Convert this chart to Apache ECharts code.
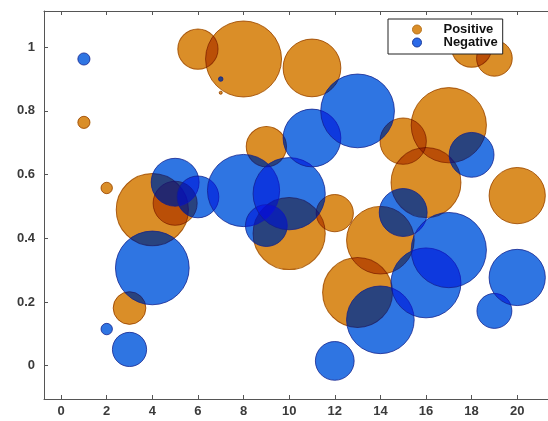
<!DOCTYPE html>
<html>
<head>
<meta charset="utf-8">
<script src="https://cdn.jsdelivr.net/npm/echarts@6/dist/echarts.min.js"></script>
<style>
html,body{margin:0;padding:0;background:#fff;}
#chart{width:548px;height:421px;}
</style>
</head>
<body>
<div id="chart"></div>
<script>
// ---- data ----
const positions = [1, 2, 3, 4, 5, 6, 7, 8, 9, 10, 11, 12, 13, 14, 15, 16, 17, 18, 19, 20];
const positiveValues = [0.764, 0.558, 0.181, 0.49, 0.51, 0.994, 0.857, 0.963, 0.688, 0.415, 0.935, 0.479, 0.23, 0.394, 0.705, 0.575, 0.755, 1.0, 0.965, 0.534];
const positiveMagnitude = [0.16, 0.15, 0.43, 0.95, 0.58, 0.53, 0.04, 1.0, 0.53, 0.95, 0.76, 0.49, 0.92, 0.89, 0.61, 0.92, 0.99, 0.53, 0.47, 0.74];
const negativeValues = [0.963, 0.115, 0.051, 0.307, 0.576, 0.53, 0.90, 0.55, 0.44, 0.54, 0.715, 0.015, 0.80, 0.144, 0.481, 0.26, 0.363, 0.662, 0.172, 0.277];
const negativeMagnitude = [0.16, 0.15, 0.45, 0.97, 0.63, 0.55, 0.06, 0.95, 0.55, 0.95, 0.76, 0.51, 0.97, 0.89, 0.63, 0.92, 0.99, 0.59, 0.46, 0.74];
const seriesNames = ['Positive', 'Negative'];
const xTickLabels = [0, 2, 4, 6, 8, 10, 12, 14, 16, 18, 20];
const yTickLabels = [0, 0.2, 0.4, 0.6, 0.8, 1];

const posData = positions.map((x, i) => [x, positiveValues[i], positiveMagnitude[i]]);
const negData = positions.map((x, i) => [x, negativeValues[i], negativeMagnitude[i]]);

const SIZE_SCALE = 76;
const sizeFn = v => v[2] * SIZE_SCALE;

const axisColor = '#555';
const labelStyle = { fontFamily: 'Liberation Sans, Arial, sans-serif', fontWeight: 'bold', fontSize: 13, color: '#3a3a3a' };

const chart = echarts.init(document.getElementById('chart'), null, { renderer: 'canvas' });
chart.setOption({
  animation: false,
  backgroundColor: '#ffffff',
  grid: { left: 44, top: 11, right: 0, bottom: 22, containLabel: false },
  legend: {
    orient: 'vertical',
    left: 388,
    top: 19,
    padding: [4, 5, 5, 24],
    itemGap: 0,
    itemWidth: 43,
    itemHeight: 9,
    icon: 'circle',
    backgroundColor: '#fff',
    borderColor: '#222',
    borderWidth: 1,
    borderRadius: 0,
    selectedMode: false,
    textStyle: { fontFamily: 'Liberation Sans, Arial, sans-serif', fontWeight: 'bold', fontSize: 13, color: '#111', lineHeight: 13 },
    data: [
      { name: seriesNames[0], itemStyle: { color: '#DA8E28', borderColor: '#B8741E', borderWidth: 1, opacity: 1 } },
      { name: seriesNames[1], itemStyle: { color: '#2B6AE8', borderColor: '#1B3A9A', borderWidth: 1, opacity: 1 } }
    ]
  },
  xAxis: [{
    type: 'value',
    min: -0.75,
    max: 21.35,
    position: 'bottom',
    splitLine: { show: false },
    axisLine: { show: true, onZero: false, lineStyle: { color: axisColor, width: 1 } },
    axisTick: { show: true, inside: true, length: 4, customValues: xTickLabels, lineStyle: { color: axisColor } },
    axisLabel: { show: true, margin: 6, customValues: xTickLabels, formatter: v => String(v), ...labelStyle }
  }, {
    type: 'value',
    min: -0.75,
    max: 21.35,
    position: 'top',
    splitLine: { show: false },
    axisLine: { show: true, onZero: false, lineStyle: { color: axisColor, width: 1 } },
    axisTick: { show: true, inside: true, length: 4, customValues: xTickLabels, lineStyle: { color: axisColor } },
    axisLabel: { show: false }
  }],
  yAxis: [{
    type: 'value',
    min: -0.1046,
    max: 1.1137,
    position: 'left',
    splitLine: { show: false },
    axisLine: { show: true, onZero: false, lineStyle: { color: axisColor, width: 1 } },
    axisTick: { show: true, inside: true, length: 4, customValues: yTickLabels, lineStyle: { color: axisColor } },
    axisLabel: { show: true, margin: 9, customValues: yTickLabels, formatter: v => String(Math.round(v * 10) / 10), ...labelStyle }
  }],
  series: [
    {
      name: seriesNames[0],
      type: 'scatter',
      symbol: 'circle',
      data: posData,
      symbolSize: sizeFn,
      blendMode: 'multiply',
      silent: true,
      itemStyle: { color: '#DA8E28', borderColor: '#B8741E', borderWidth: 1, opacity: 1 },
      emphasis: { disabled: true }
    },
    {
      name: seriesNames[1] + ' shade',
      type: 'scatter',
      symbol: 'circle',
      data: negData,
      symbolSize: sizeFn,
      blendMode: 'multiply',
      silent: true,
      itemStyle: { color: 'rgb(78,205,215)', borderWidth: 0, opacity: 1 },
      emphasis: { disabled: true }
    },
    {
      name: seriesNames[1],
      type: 'scatter',
      symbol: 'circle',
      data: negData,
      symbolSize: sizeFn,
      silent: true,
      itemStyle: { color: 'rgba(10,10,240,0.45)', borderColor: 'rgba(20,30,140,0.75)', borderWidth: 1, opacity: 1 },
      emphasis: { disabled: true }
    }
  ]
});
</script>
</body>
</html>
